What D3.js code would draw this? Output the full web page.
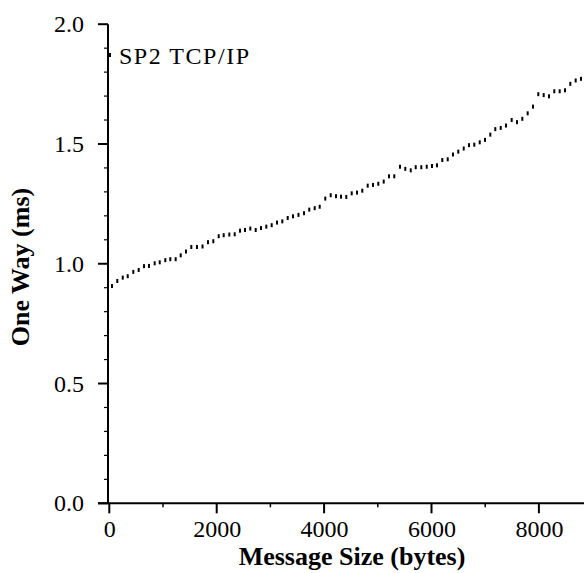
<!DOCTYPE html>
<html>
<head>
<meta charset="utf-8">
<script src="https://cdn.jsdelivr.net/npm/d3@7"></script>
<style>
  html, body { margin: 0; padding: 0; background: #fff; }
  svg { display: block; }
  text { font-family: "Liberation Serif", "Times New Roman", serif; fill: #000; }
</style>
</head>
<body>
<svg id="chart" width="584" height="573"></svg>
<script>
// ---- data ----
const seriesName = "SP2 TCP/IP";
const messageSizes = [
  50, 149, 250, 343, 447, 547, 646, 739, 845, 939, 1043, 1136, 1236, 1330, 1428, 1527, 1633, 1736,
  1838, 1937, 2037, 2130, 2235, 2335, 2434, 2527, 2626, 2726, 2825, 2924, 3024, 3123, 3222, 3322, 3421, 3523,
  3626, 3724, 3825, 3918, 4022, 4123, 4222, 4315, 4413, 4514, 4613, 4711, 4812, 4911, 5009, 5110, 5209, 5307,
  5413, 5512, 5613, 5706, 5810, 5911, 6009, 6102, 6201, 6302, 6400, 6499, 6600, 6698, 6797, 6898, 6996, 7095,
  7188, 7289, 7387, 7493, 7592, 7691, 7791, 7890, 7989, 8089, 8188, 8287, 8387, 8486, 8585, 8685, 8784
];
const oneWayMs = [
  0.907, 0.928, 0.942, 0.948, 0.966, 0.974, 0.990, 0.991, 1.002, 1.006, 1.015, 1.019, 1.019, 1.035, 1.051, 1.070, 1.070, 1.072,
  1.090, 1.094, 1.115, 1.119, 1.122, 1.123, 1.138, 1.141, 1.147, 1.141, 1.149, 1.155, 1.161, 1.172, 1.177, 1.191, 1.198, 1.204,
  1.211, 1.226, 1.232, 1.238, 1.272, 1.286, 1.282, 1.280, 1.279, 1.294, 1.297, 1.305, 1.326, 1.329, 1.334, 1.343, 1.365, 1.365,
  1.405, 1.396, 1.390, 1.403, 1.403, 1.405, 1.408, 1.411, 1.433, 1.436, 1.456, 1.468, 1.481, 1.495, 1.497, 1.507, 1.517, 1.539,
  1.562, 1.567, 1.577, 1.600, 1.591, 1.605, 1.628, 1.656, 1.708, 1.704, 1.699, 1.720, 1.720, 1.724, 1.751, 1.765, 1.772
];
const xMajorTicks = [0, 2000, 4000, 6000, 8000];
const xMinorTicks = [1000, 3000, 5000, 7000, 9000];
const yMajorTicks = [0.0, 0.5, 1.0, 1.5, 2.0];
const yMinorTicks = [0.1, 0.2, 0.3, 0.4, 0.6, 0.7, 0.8, 0.9, 1.1, 1.2, 1.3, 1.4, 1.6, 1.7, 1.8, 1.9];
const xTitle = "Message Size (bytes)";
const yTitle = "One Way (ms)";

// ---- layout ----
const svg = d3.select("#chart");
const x = d3.scaleLinear().domain([0, 9000]).range([109.3, 592.6]);
const y = d3.scaleLinear().domain([0, 2.0]).range([503.3, 24.2]);
const axisX = 108;

// x axis
const gx = svg.append("g").attr("transform", `translate(0,${y(0)})`);
gx.call(d3.axisBottom(x).tickValues(xMajorTicks).tickFormat(d3.format("d"))
  .tickSize(10).tickPadding(7).tickSizeOuter(0));
gx.select(".domain").remove();
gx.selectAll(".tick line").remove();
gx.selectAll(".tick text").style("font-size", "24px").style("font-family", "Liberation Serif");
gx.selectAll("line.majorx").data(xMajorTicks).enter().append("line").attr("class", "majorx")
  .attr("x1", d => x(d)).attr("x2", d => x(d)).attr("y1", 0).attr("y2", 10)
  .attr("stroke", "#000").attr("stroke-width", 2);
gx.selectAll("line.minorx").data(xMinorTicks).enter().append("line").attr("class", "minorx")
  .attr("x1", d => x(d)).attr("x2", d => x(d)).attr("y1", 0).attr("y2", 4)
  .attr("stroke", "#000").attr("stroke-width", 1.5);
svg.append("line").attr("x1", 98).attr("x2", 584).attr("y1", y(0)).attr("y2", y(0))
  .attr("stroke", "#000").attr("stroke-width", 2);

// y axis
const gy = svg.append("g").attr("transform", `translate(${axisX},0)`);
gy.call(d3.axisLeft(y).tickValues(yMajorTicks).tickFormat(d3.format(".1f"))
  .tickSize(10).tickPadding(14).tickSizeOuter(0));
gy.select(".domain").remove();
gy.selectAll(".tick line").remove();
gy.selectAll(".tick text").style("font-size", "24px").style("font-family", "Liberation Serif");
gy.selectAll("line.majory").data(yMajorTicks).enter().append("line").attr("class", "majory")
  .attr("x1", -10).attr("x2", 0).attr("y1", d => y(d)).attr("y2", d => y(d))
  .attr("stroke", "#000").attr("stroke-width", 2);
gy.selectAll("line.minory").data(yMinorTicks).enter().append("line").attr("class", "minory")
  .attr("x1", -4).attr("x2", 0).attr("y1", d => y(d)).attr("y2", d => y(d))
  .attr("stroke", "#000").attr("stroke-width", 1.2);
svg.append("line").attr("x1", axisX).attr("x2", axisX).attr("y1", y(0)).attr("y2", y(2.0))
  .attr("stroke", "#000").attr("stroke-width", 2);

// data marks: small vertical dashes
const pts = messageSizes.map((s, i) => ({ s, v: oneWayMs[i] }));
svg.append("g").selectAll("rect").data(pts).enter().append("rect")
  .attr("x", d => x(d.s) - 1).attr("y", d => y(d.v) - 2)
  .attr("width", 2).attr("height", 4).attr("fill", "#000");

// legend
svg.append("rect").attr("x", 109).attr("y", 53).attr("width", 2).attr("height", 4).attr("fill", "#000");
svg.append("text").attr("x", 119).attr("y", 64)
  .attr("textLength", 130).attr("lengthAdjust", "spacing")
  .style("font-size", "24px").text(seriesName);

// titles
svg.append("text").attr("x", 352).attr("y", 565).attr("text-anchor", "middle")
  .style("font-size", "26px").style("font-weight", "bold").text(xTitle);
svg.append("text").attr("transform", "translate(29,267) rotate(-90)").attr("text-anchor", "middle")
  .style("font-size", "26px").style("font-weight", "bold").text(yTitle);
</script>
</body>
</html>
